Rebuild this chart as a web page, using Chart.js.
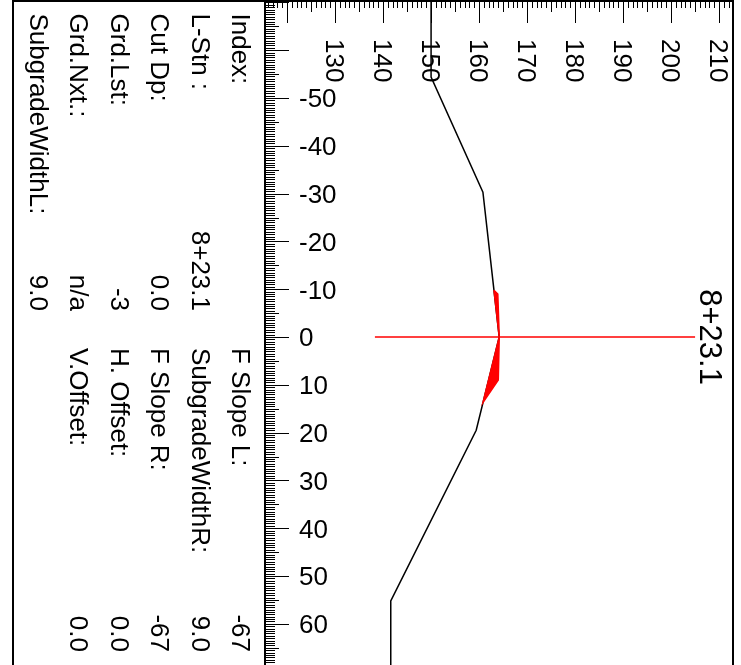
<!DOCTYPE html>
<html>
<head>
<meta charset="utf-8">
<script src="https://cdn.jsdelivr.net/npm/chart.js@4.4.1/dist/chart.umd.min.js"></script>
<style>
  html, body { margin: 0; padding: 0; background: #fff; }
  #seccion { display: block; }
</style>
</head>
<body>
<canvas id="seccion" width="741" height="665"></canvas>
<script>
// Ticks de los ejes
const elevTicks = [130, 140, 150, 160, 170, 180, 190, 200, 210];
const offsetTicks = [-50, -40, -30, -20, -10, 0, 10, 20, 30, 40, 50, 60];

// Terreno natural (offset, elevación)
const groundOffset = [-72, -54.4, -30.3, 0, 19.5, 55.2, 70];
const groundElev = [150.0, 150.0, 160.8, 164.2, 159.4, 141.6, 141.6];

// Subrasante / terraplén
const designOffset = [-9.8, -9.0, 0, 9.0, 13.7];
const designElev = [163.1, 163.9, 164.2, 164.0, 160.8];

// Línea de estación (offset 0)
const stationOffset = 0;
const stationElev = [138.3, 205.0];
const stationLabel = '8+23.1';

// Panel de datos
const infoLabelsA = ['Index:', 'L-Stn :', 'Cut Dp:', 'Grd.Lst:', 'Grd.Nxt.:', 'SubgradeWidthL:'];
const infoValuesA = ['', '8+23.1', '0.0', '-3', 'n/a', '9.0'];
const infoLabelsB = ['F Slope L:', 'SubgradeWidthR:', 'F Slope R:', 'H. Offset:', 'V.Offset:'];
const infoValuesB = ['-67', '9.0', '-67', '0.0', '0.0'];

const FUENTE = '"Liberation Sans", Arial, sans-serif';

const toPts = (offs, elevs) => offs.map((o, i) => ({ x: elevs[i], y: o }));

// Polígono del relleno: subrasante + vuelta por el terreno
const first = designOffset[0];
const last = designOffset[designOffset.length - 1];
const fillPts = toPts(designOffset, designElev);
for (let i = groundOffset.length - 1; i >= 0; i--) {
    if (groundOffset[i] > first && groundOffset[i] < last) {
        fillPts.push({ x: groundElev[i], y: groundOffset[i] });
    }
}
fillPts.push({ x: designElev[0], y: designOffset[0] });

function textoRotado(ctx, txt, x, y, align) {
    ctx.save();
    ctx.translate(x, y);
    ctx.rotate(Math.PI / 2);
    ctx.textAlign = align;
    ctx.textBaseline = 'alphabetic';
    ctx.fillText(txt, 0, 0);
    ctx.restore();
}

const reglaPlugin = {
    id: 'regla',
    afterDraw(chart) {
        const ctx = chart.ctx;
        const sx = chart.scales.x;
        const sy = chart.scales.y;
        const a = chart.chartArea;
        ctx.save();
        ctx.strokeStyle = '#000';
        ctx.fillStyle = '#000';
        ctx.lineWidth = 1;

        // regla superior (elevación), cada unidad
        for (let v = Math.ceil(sx.min); v <= sx.max; v++) {
            const px = Math.round(sx.getPixelForValue(v)) + 0.5;
            const len = v % 10 === 0 ? 23 : (v % 5 === 0 ? 12 : 8);
            ctx.beginPath();
            ctx.moveTo(px, a.top);
            ctx.lineTo(px, a.top + len);
            ctx.stroke();
        }
        // regla izquierda (offset), cada media unidad
        for (let k = Math.ceil(sy.min * 2); k <= sy.max * 2; k++) {
            const v = k / 2;
            const py = Math.round(sy.getPixelForValue(v)) + 0.5;
            const len = v % 10 === 0 ? 24 : (v % 5 === 0 ? 14 : 10);
            ctx.beginPath();
            ctx.moveTo(a.left, py);
            ctx.lineTo(a.left + len, py);
            ctx.stroke();
        }

        // marcos
        ctx.lineWidth = 2;
        ctx.beginPath();
        ctx.moveTo(a.left, a.top);
        ctx.lineTo(a.left, a.bottom);
        ctx.moveTo(13, 1);
        ctx.lineTo(a.right, 1);
        ctx.moveTo(13, 0);
        ctx.lineTo(13, a.bottom);
        ctx.moveTo(a.right, 0);
        ctx.lineTo(a.right, a.bottom);
        ctx.stroke();

        // etiquetas de elevación (rotadas)
        ctx.font = '26px ' + FUENTE;
        elevTicks.forEach(v => {
            textoRotado(ctx, String(v), sx.getPixelForValue(v) - 9.3, 39, 'left');
        });
        // etiquetas de offset
        ctx.textAlign = 'left';
        ctx.textBaseline = 'alphabetic';
        offsetTicks.forEach(v => {
            ctx.fillText(String(v), 299, sy.getPixelForValue(v) + 9.3);
        });

        // panel de datos
        infoLabelsA.forEach((t, i) => {
            const bx = 232 - i * 40.4;
            textoRotado(ctx, t, bx, 13.5, 'left');
            if (infoValuesA[i]) textoRotado(ctx, infoValuesA[i], bx, 311, 'right');
        });
        infoLabelsB.forEach((t, i) => {
            const bx = 232 - i * 40.4;
            textoRotado(ctx, t, bx, 348, 'left');
            textoRotado(ctx, infoValuesB[i], bx, 652, 'right');
        });

        // etiqueta de estación
        ctx.font = '31px ' + FUENTE;
        textoRotado(ctx, stationLabel, 699.5, sy.getPixelForValue(stationOffset), 'center');
        ctx.restore();
    }
};

const canvas = document.getElementById('seccion');

new Chart(canvas, {
    type: 'scatter',
    data: {
        datasets: [
            {
                label: 'estacion',
                data: stationElev.map(e => ({ x: e, y: stationOffset })),
                showLine: true,
                borderColor: '#ff0000',
                borderWidth: 1.5,
                fill: false
            },
            {
                label: 'relleno',
                data: fillPts,
                showLine: true,
                borderColor: '#ff0000',
                backgroundColor: '#ff0000',
                borderWidth: 1.5,
                fill: 'shape'
            },
            {
                label: 'terreno',
                data: toPts(groundOffset, groundElev),
                showLine: true,
                borderColor: '#000000',
                borderWidth: 1.5,
                fill: false
            }
        ]
    },
    options: {
        responsive: false,
        animation: false,
        layout: { padding: { left: 265, right: 8, top: 0, bottom: 0 } },
        elements: { point: { radius: 0, hoverRadius: 0 }, line: { tension: 0 } },
        scales: {
            x: { type: 'linear', display: false, min: 115.4, max: 212.9 },
            y: { type: 'linear', display: false, reverse: true, min: -70.5, max: 68.6 }
        },
        plugins: {
            legend: { display: false },
            tooltip: { enabled: false }
        }
    },
    plugins: [reglaPlugin]
});
</script>
</body>
</html>
